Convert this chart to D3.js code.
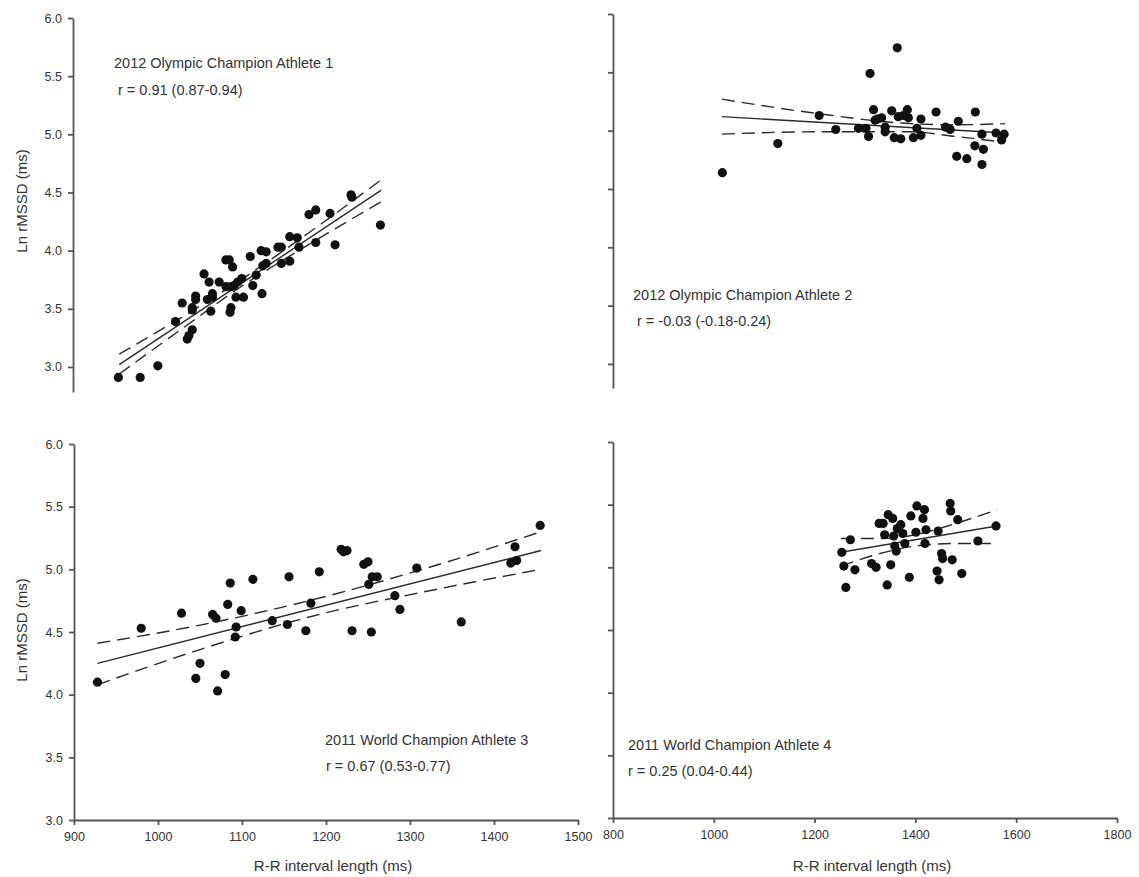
<!DOCTYPE html>
<html>
<head>
<meta charset="utf-8">
<style>
  body { margin: 0; background: #fff; }
  svg text { font-family: "Liberation Sans", Arial, sans-serif; fill: #333; }
  .axis path, .axis line { stroke: #555; stroke-width: 1.8; }
  .fit { fill: none; stroke: #2a2a2a; stroke-width: 1.4; }
  .ci { fill: none; stroke: #2a2a2a; stroke-width: 1.4; stroke-dasharray: 13,7; }
</style>
</head>
<body>
<svg id="chart" width="1139" height="877"></svg>
<script src="https://cdn.jsdelivr.net/npm/d3@7"></script>
<script>
// tick values
const yTicks = [3.0, 3.5, 4.0, 4.5, 5.0, 5.5, 6.0];
const xTicksLeft = [900, 1000, 1100, 1200, 1300, 1400, 1500];
const xTicksRight = [800, 1000, 1200, 1400, 1600, 1800];

// athlete 1 (2012 Olympic champion)
const athlete1RR = [954, 980, 1001, 1022, 1030, 1036, 1038, 1042, 1042, 1042, 1046, 1046, 1056, 1062, 1060, 1064, 1066, 1066, 1074, 1082, 1086, 1082, 1090, 1088, 1092, 1088, 1087, 1094, 1096, 1101, 1103, 1111, 1114, 1118, 1125, 1124, 1130, 1126, 1130, 1144, 1148, 1148, 1158, 1158, 1167, 1169, 1181, 1189, 1189, 1206, 1212, 1231, 1232, 1266];
const athlete1Ln = [2.91, 2.91, 3.01, 3.39, 3.55, 3.24, 3.27, 3.32, 3.49, 3.51, 3.61, 3.58, 3.80, 3.73, 3.58, 3.48, 3.63, 3.60, 3.73, 3.92, 3.92, 3.69, 3.86, 3.69, 3.70, 3.51, 3.47, 3.60, 3.73, 3.76, 3.60, 3.95, 3.70, 3.79, 3.63, 4.00, 3.99, 3.87, 3.89, 4.03, 4.03, 3.89, 3.91, 4.12, 4.11, 4.03, 4.31, 4.35, 4.07, 4.32, 4.05, 4.48, 4.46, 4.22];
const athlete1Fit = [[955, 3.02], [1267, 4.52]];
const athlete1Upper = [[955, 3.11], [1030, 3.43], [1100, 3.75], [1180, 4.15], [1267, 4.61]];
const athlete1Lower = [[955, 2.94], [1030, 3.33], [1100, 3.69], [1180, 4.05], [1267, 4.42]];

// athlete 2 (2012 Olympic champion)
const athlete2RR = [1017, 1127, 1209, 1242, 1310, 1364, 1287, 1302, 1307, 1317, 1320, 1325, 1333, 1340, 1340, 1353, 1358, 1371, 1376, 1384, 1386, 1396, 1403, 1411, 1411, 1441, 1460, 1469, 1485, 1482, 1502, 1519, 1518, 1532, 1535, 1532, 1560, 1571, 1576, 1366];
const athlete2Ln = [4.64, 4.89, 5.13, 5.01, 5.49, 5.71, 5.02, 5.02, 4.95, 5.18, 5.09, 5.10, 5.11, 5.03, 4.99, 5.17, 4.94, 4.93, 5.13, 5.18, 5.11, 4.94, 5.02, 5.10, 4.96, 5.16, 5.03, 5.01, 5.08, 4.78, 4.76, 5.16, 4.87, 4.97, 4.84, 4.71, 4.98, 4.92, 4.97, 5.12];
const athlete2Fit = [[1016, 5.12], [1578, 4.98]];
const athlete2Upper = [[1016, 5.27], [1200, 5.15], [1390, 5.06], [1480, 5.05], [1578, 5.06]];
const athlete2Lower = [[1016, 4.97], [1200, 4.99], [1390, 4.99], [1480, 4.95], [1578, 4.90]];

// athlete 3 (2011 World champion)
const athlete3RR = [928, 980, 1028, 1045, 1050, 1065, 1069, 1071, 1080, 1083, 1086, 1093, 1092, 1099, 1113, 1136, 1156, 1154, 1176, 1182, 1192, 1218, 1221, 1225, 1231, 1245, 1250, 1251, 1254, 1255, 1261, 1282, 1288, 1308, 1361, 1420, 1425, 1427, 1455];
const athlete3Ln = [4.10, 4.53, 4.65, 4.13, 4.25, 4.64, 4.61, 4.03, 4.16, 4.72, 4.89, 4.54, 4.46, 4.67, 4.92, 4.59, 4.94, 4.56, 4.51, 4.73, 4.98, 5.16, 5.14, 5.15, 4.51, 5.04, 5.06, 4.88, 4.50, 4.94, 4.94, 4.79, 4.68, 5.01, 4.58, 5.05, 5.18, 5.07, 5.35];
const athlete3Fit = [[928, 4.25], [1456, 5.15]];
const athlete3Upper = [[928, 4.41], [1050, 4.555], [1180, 4.75], [1320, 5.01], [1456, 5.30]];
const athlete3Lower = [[928, 4.08], [1050, 4.36], [1180, 4.62], [1320, 4.825], [1456, 5.00]];

// athlete 4 (2011 World champion)
const athlete4RR = [1262, 1254, 1258, 1271, 1280, 1313, 1322, 1328, 1336, 1339, 1346, 1344, 1351, 1355, 1357, 1359, 1362, 1364, 1371, 1375, 1379, 1388, 1391, 1403, 1401, 1415, 1418, 1421, 1419, 1445, 1443, 1447, 1452, 1454, 1473, 1469, 1470, 1484, 1492, 1524, 1560];
const athlete4Ln = [4.84, 5.12, 5.01, 5.22, 4.98, 5.03, 5.00, 5.35, 5.35, 5.26, 5.42, 4.86, 5.02, 5.39, 5.25, 5.17, 5.13, 5.31, 5.34, 5.27, 5.19, 4.92, 5.41, 5.49, 5.28, 5.39, 5.46, 5.30, 5.19, 5.29, 4.97, 4.90, 5.11, 5.07, 5.06, 5.51, 5.45, 5.38, 4.95, 5.21, 5.33];
const athlete4Fit = [[1252, 5.12], [1562, 5.33]];
const athlete4Upper = [[1252, 5.23], [1330, 5.23], [1400, 5.26], [1480, 5.35], [1562, 5.46]];
const athlete4Lower = [[1252, 5.01], [1330, 5.11], [1400, 5.17], [1480, 5.19], [1562, 5.19]];

const titles = ["2012 Olympic Champion Athlete 1", "2012 Olympic Champion Athlete 2", "2011 World Champion Athlete 3", "2011 World Champion Athlete 4"];
const rLabels = ["r = 0.91 (0.87-0.94)", "r = -0.03 (-0.18-0.24)", "r = 0.67 (0.53-0.77)", "r = 0.25 (0.04-0.44)"];

// panel layout
const panels = [
  { rr: athlete1RR, ln: athlete1Ln, fit: athlete1Fit, up: athlete1Upper, lo: athlete1Lower,
    xDom: [900, 1500], xRange: [73, 577], yDom: [2.785, 6], yRange: [392, 18],
    labels: true, xAxis: false, tx: 114, ty: 68, rx: 118, ry: 95 },
  { rr: athlete2RR, ln: athlete2Ln, fit: athlete2Fit, up: athlete2Upper, lo: athlete2Lower,
    xDom: [800, 1800], xRange: [613, 1117], yDom: [2.794, 6], yRange: [388, 14],
    labels: false, xAxis: false, tx: 633, ty: 300, rx: 637, ry: 326 },
  { rr: athlete3RR, ln: athlete3Ln, fit: athlete3Fit, up: athlete3Upper, lo: athlete3Lower,
    xDom: [900, 1500], xRange: [74, 578], yDom: [3, 6], yRange: [820, 444],
    labels: true, xAxis: true, xTicks: xTicksLeft, tx: 325, ty: 745, rx: 326, ry: 771 },
  { rr: athlete4RR, ln: athlete4Ln, fit: athlete4Fit, up: athlete4Upper, lo: athlete4Lower,
    xDom: [800, 1800], xRange: [613, 1117], yDom: [3, 6], yRange: [818, 442],
    labels: false, xAxis: true, xTicks: xTicksRight, tx: 628, ty: 750, rx: 628, ry: 776 }
];

const svg = d3.select("#chart");

panels.forEach((p, i) => {
  const x = d3.scaleLinear().domain(p.xDom).range(p.xRange);
  const y = d3.scaleLinear().domain(p.yDom).range(p.yRange);

  const yAxis = d3.axisLeft(y)
    .tickValues(yTicks)
    .tickSize(5)
    .tickSizeOuter(0)
    .tickPadding(6)
    .tickFormat(p.labels ? d3.format(".1f") : () => "");
  const gy = svg.append("g")
    .attr("class", "axis")
    .attr("transform", `translate(${p.xRange[0]},0)`)
    .call(yAxis);
  gy.attr("font-family", null).attr("font-size", null);
  gy.selectAll("text").style("font-size", "12.5px");

  if (p.xAxis) {
    const xAxis = d3.axisBottom(x)
      .tickValues(p.xTicks)
      .tickSize(5)
      .tickSizeOuter(0)
      .tickPadding(7)
      .tickFormat(d3.format("d"));
    const gx = svg.append("g")
      .attr("class", "axis")
      .attr("transform", `translate(0,${p.yRange[0]})`)
      .call(xAxis);
    gx.attr("font-family", null).attr("font-size", null);
    gx.selectAll("text").style("font-size", "12.5px");
  }

  const line = d3.line().x(d => x(d[0])).y(d => y(d[1]));
  const curve = d3.line().x(d => x(d[0])).y(d => y(d[1])).curve(d3.curveMonotoneX);

  svg.append("path").attr("class", "ci").attr("d", curve(p.up));
  svg.append("path").attr("class", "ci").attr("d", curve(p.lo));
  svg.append("path").attr("class", "fit").attr("d", line(p.fit));

  svg.append("g").selectAll("circle")
    .data(p.rr.map((v, k) => [v, p.ln[k]]))
    .join("circle")
    .attr("cx", d => x(d[0]))
    .attr("cy", d => y(d[1]))
    .attr("r", 4.6)
    .attr("fill", "#111");

  svg.append("text").attr("x", p.tx).attr("y", p.ty)
    .style("font-size", "14.5px").text(titles[i]);
  svg.append("text").attr("x", p.rx).attr("y", p.ry)
    .style("font-size", "14.5px").text(rLabels[i]);
});

// axis titles
svg.append("text")
  .attr("transform", "translate(27,201) rotate(-90)")
  .attr("text-anchor", "middle")
  .style("font-size", "15px")
  .text("Ln rMSSD (ms)");
svg.append("text")
  .attr("transform", "translate(27,630) rotate(-90)")
  .attr("text-anchor", "middle")
  .style("font-size", "15px")
  .text("Ln rMSSD (ms)");
svg.append("text")
  .attr("x", 333).attr("y", 871)
  .attr("text-anchor", "middle")
  .style("font-size", "15px")
  .text("R-R interval length (ms)");
svg.append("text")
  .attr("x", 872).attr("y", 871)
  .attr("text-anchor", "middle")
  .style("font-size", "15px")
  .text("R-R interval length (ms)");
</script>
</body>
</html>
